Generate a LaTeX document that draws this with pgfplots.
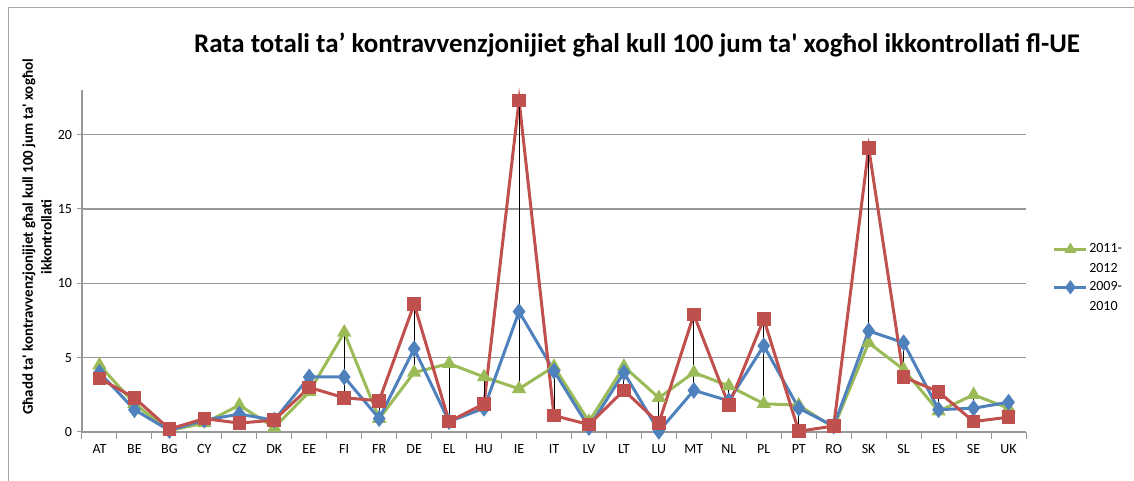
\documentclass[border=0pt]{standalone}
\usepackage{fontspec}
\setmainfont{Carlito}
\usepackage{pgfplots}
\pgfplotsset{compat=1.18}
\definecolor{cgreen}{HTML}{9BBB59}
\definecolor{cblue}{HTML}{4F81BD}
\definecolor{cred}{HTML}{C0504D}
\definecolor{cgrid}{HTML}{989898}
\definecolor{cframe}{HTML}{A6A6A6}
\begin{document}
\begin{tikzpicture}
\useasboundingbox (0,0) rectangle (850.5pt,360.75pt);
\begin{scope}[x=0.75pt,y=0.75pt]
\draw[cframe,line width=0.75pt] (8,-5) -- (8,473) -- (1140,473);
\node[font=\bfseries\fontsize{20.2pt}{24pt}\selectfont] at (637,481-45) {Rata totali ta’ kontravvenzjonijiet għal kull 100 jum ta\textquotesingle{} xogħol ikkontrollati fl-UE};
\node[rotate=90,font=\bfseries\fontsize{11.2pt}{14pt}\selectfont,align=center] at (37,481-237) {Għadd ta\textquotesingle{} kontravvenzjonijiet għal kull 100 jum ta\textquotesingle{} xogħol\\ikkontrollati};
\end{scope}
\begin{axis}[
  at={(61.5pt,36.75pt)}, anchor=south west,
  width=708pt, height=256.5pt, scale only axis,
  xmin=-0.5, xmax=26.5, ymin=0, ymax=23,
  axis x line=bottom, axis y line=left,
  axis line style={cgrid,line width=0.9pt,-},
  xtick={0,...,26},
  xticklabels={AT,BE,BG,CY,CZ,DK,EE,FI,FR,DE,EL,HU,IE,IT,LV,LT,LU,MT,NL,PL,PT,RO,SK,SL,ES,SE,UK},
  major x tick style={draw=none},
  minor xtick={-0.5,0.5,...,26.5},
  minor x tick style={cgrid,line width=0.75pt},
  minor tick length=5pt,
  ytick={0,5,10,15,20},
  ymajorgrids, grid style={cgrid,line width=0.9pt},
  major y tick style={cgrid,line width=0.75pt},
  major tick length=4pt,
  tick align=outside,
  tick label style={font=\fontsize{10.5pt}{12pt}\selectfont},
  /pgf/number format/assume math mode=true,
  xticklabel style={yshift=-2pt},
  clip=false,
  legend style={at={(1.024,0.5625)},anchor=north west,draw=none,fill=none,
     font=\fontsize{10.5pt}{14.6pt}\selectfont,row sep=3.5pt,
     nodes={align=left,anchor=west,inner sep=1pt}},
  legend cell align=left,
  legend image code/.code={\draw[mark repeat=2,mark phase=2,#1] plot coordinates {(0pt,7.3pt) (12pt,7.3pt) (24pt,7.3pt)};},
]
\addlegendimage{cgreen,line width=2.25pt,mark=triangle*,mark size=3pt,mark options={solid}}
\addlegendentry{2011-\\2012}
\addlegendimage{cblue,line width=2.25pt,mark=diamond*,mark size=3.5pt,mark options={solid}}
\addlegendentry{2009-\\2010}
\addplot[forget plot,cgreen,line width=2.25pt,mark=triangle*,mark size=4pt,mark options={solid}] coordinates {
(0,4.5)(1,1.9)(2,0.1)(3,0.6)(4,1.8)(5,0.3)(6,2.7)(7,6.7)(8,0.9)(9,4.0)(10,4.6)(11,3.7)(12,2.9)(13,4.4)(14,0.7)(15,4.4)(16,2.3)(17,4.0)(18,3.1)(19,1.9)(20,1.8)(21,0.3)(22,6.0)(23,4.2)(24,1.4)(25,2.5)(26,1.6)};
\addplot[forget plot,cblue,line width=2.25pt,mark=diamond*,mark size=4.5pt,mark options={solid}] coordinates {
(0,4.0)(1,1.5)(2,0.1)(3,0.8)(4,1.2)(5,0.8)(6,3.7)(7,3.7)(8,0.9)(9,5.6)(10,0.7)(11,1.6)(12,8.1)(13,4.1)(14,0.3)(15,4.0)(16,0.05)(17,2.8)(18,2.1)(19,5.8)(20,1.6)(21,0.4)(22,6.8)(23,6.0)(24,1.5)(25,1.6)(26,2.0)};
\addplot[forget plot,cred,line width=2.25pt,mark=square*,mark size=4pt,mark options={solid}] coordinates {
(0,3.6)(1,2.3)(2,0.2)(3,0.9)(4,0.6)(5,0.8)(6,3.0)(7,2.3)(8,2.1)(9,8.6)(10,0.7)(11,1.9)(12,22.3)(13,1.1)(14,0.5)(15,2.8)(16,0.6)(17,7.9)(18,1.8)(19,7.6)(20,0.05)(21,0.4)(22,19.1)(23,3.7)(24,2.7)(25,0.7)(26,1.0)};
\addplot[black,line width=0.75pt,unbounded coords=jump,forget plot] coordinates {
(0,3.6)(0,4.5)(0,nan)
(1,1.5)(1,2.3)(1,nan)
(2,0.1)(2,0.2)(2,nan)
(3,0.6)(3,0.9)(3,nan)
(4,0.6)(4,1.8)(4,nan)
(5,0.3)(5,0.8)(5,nan)
(6,2.7)(6,3.7)(6,nan)
(7,2.3)(7,6.7)(7,nan)
(8,0.9)(8,2.1)(8,nan)
(9,4.0)(9,8.6)(9,nan)
(10,0.7)(10,4.6)(10,nan)
(11,1.6)(11,3.7)(11,nan)
(12,2.9)(12,22.3)(12,nan)
(13,1.1)(13,4.4)(13,nan)
(14,0.3)(14,0.7)(14,nan)
(15,2.8)(15,4.4)(15,nan)
(16,0.05)(16,2.3)(16,nan)
(17,2.8)(17,7.9)(17,nan)
(18,1.8)(18,3.1)(18,nan)
(19,1.9)(19,7.6)(19,nan)
(20,0.05)(20,1.8)(20,nan)
(21,0.3)(21,0.4)(21,nan)
(22,6.0)(22,19.1)(22,nan)
(23,3.7)(23,6.0)(23,nan)
(24,1.4)(24,2.7)(24,nan)
(25,0.7)(25,2.5)(25,nan)
(26,1.0)(26,2.0)};
\end{axis}
\end{tikzpicture}
\end{document}
